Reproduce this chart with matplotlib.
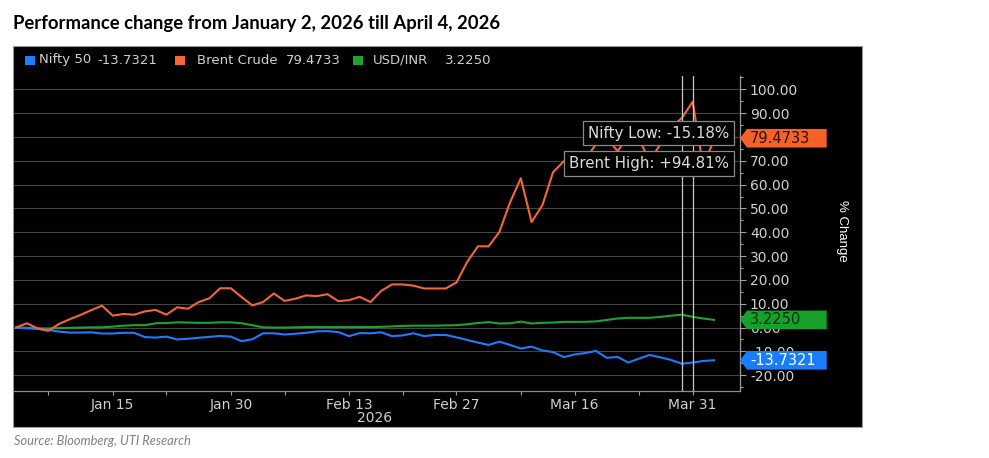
import numpy as np
import matplotlib
matplotlib.use("Agg")
import matplotlib.pyplot as plt
from matplotlib.patches import Rectangle, Polygon
from matplotlib.ticker import MultipleLocator, FixedLocator, FuncFormatter
from matplotlib.transforms import blended_transform_factory

# % change since Jan 2, 2026 (one point per trading session)
NIFTY = [0.0, -0.3, -0.6, -1.0, -1.7, -2.1, -2.1, -2.0, -2.5, -2.5,
         -2.2, -2.2, -4.0, -4.2, -3.8, -5.0, -4.7, -4.3, -3.9, -3.5,
         -3.8, -5.7, -4.9, -2.4, -2.4, -2.9, -2.6, -2.2, -1.6, -1.5,
         -1.9, -3.6, -2.3, -2.4, -2.0, -3.6, -3.3, -2.4, -3.6, -3.1,
         -3.1, -4.1, -5.2, -6.3, -7.3, -5.9, -7.3, -8.8, -8.0, -9.6,
         -10.3, -12.4, -11.3, -10.7, -9.8, -12.7, -12.3, -14.7, -13.0, -11.5,
         -12.5, -13.6, -15.18, -14.7, -14.0, -13.7321]
BRENT = [0.0, 1.8, -0.3, -1.4, 1.5, 3.5, 5.3, 7.3, 9.2, 5.0,
         5.7, 5.4, 6.8, 7.4, 5.4, 8.5, 7.9, 10.7, 12.3, 16.5,
         16.5, 12.8, 9.3, 10.7, 14.3, 11.2, 12.1, 13.5, 13.2, 14.0,
         11.1, 11.5, 12.9, 10.7, 15.4, 18.1, 18.1, 17.6, 16.4, 16.4,
         16.4, 18.9, 27.5, 34.1, 34.1, 40.1, 52.6, 62.7, 44.3, 51.3,
         65.2, 69.8, 66.0, 70.5, 77.0, 80.0, 74.0, 80.5, 79.0, 70.0,
         77.0, 84.0, 88.0, 94.81, 67.0, 79.4733]
USDINR = [0.0, -0.1, -0.3, -0.4, -0.2, -0.1, 0.0, 0.1, 0.1, 0.4,
          0.8, 1.0, 1.0, 1.8, 1.9, 2.2, 2.1, 2.0, 2.0, 2.2,
          2.2, 1.8, 1.0, 0.1, 0.0, 0.0, 0.1, 0.2, 0.2, 0.2,
          0.2, 0.2, 0.2, 0.2, 0.3, 0.5, 0.7, 0.8, 0.8, 0.8,
          0.9, 1.0, 1.4, 1.9, 2.3, 1.7, 1.8, 2.5, 1.7, 2.0,
          2.1, 2.4, 2.4, 2.4, 2.6, 3.2, 3.8, 4.1, 4.1, 4.1,
          4.5, 5.0, 5.4, 4.5, 3.8, 3.225]

SERIES_NAMES = ["Nifty 50", "Brent Crude", "USD/INR"]
DATE_TICKS = [9, 20, 31, 41, 52, 63]
DATE_LABELS = ["Jan 15", "Jan 30", "Feb 13", "Feb 27", "Mar 16", "Mar 31"]
MINOR_TICKS = [3, 14, 25, 36, 47, 58]

BLUE = "#1f7bff"
ORANGE = "#f4663a"
GREEN = "#1ea332"
TAG_BLUE = "#1a7dff"
TAG_ORANGE = "#f4622a"
TAG_GREEN = "#15a12a"

W, H = 989, 458


def fx(x):
    return x / W


def fy(y):
    return 1 - y / H


fig = plt.figure(figsize=(W / 100, H / 100), dpi=100)
fig.patch.set_facecolor("white")

# black Bloomberg panel
fig.add_artist(Rectangle((fx(12.5), fy(426.5)), fx(861.7) - fx(12.5),
                         fy(46) - fy(426.5), transform=fig.transFigure,
                         fc="black", ec="#9a9a9a", lw=0.8, zorder=0))

fig.text(fx(13), fy(28.5), "Performance change from January 2, 2026 till April 4, 2026",
         fontsize=13.3, fontweight="bold", family="Lato", va="baseline", ha="left")
fig.text(fx(14), fy(445), "Source: Bloomberg, UTI Research", fontsize=9.3,
         style="italic", family="Lato", color="#808080", va="baseline")

# legend row
x_idx = np.arange(len(NIFTY))
legend_items = [
    (25, 39, 97, BLUE, SERIES_NAMES[0], NIFTY[-1]),
    (175, 197, 286, ORANGE, SERIES_NAMES[1], BRENT[-1]),
    (353, 373, 445, GREEN, SERIES_NAMES[2], USDINR[-1]),
]
for sx, tx, vx, col, name, last in legend_items:
    fig.add_artist(Rectangle((fx(sx), fy(64.5)), fx(9.5), 9 / H,
                             transform=fig.transFigure, fc=col, ec="none"))
    fig.text(fx(tx), fy(60), name, fontsize=9.5, color="#d0d0d0", va="center")
    fig.text(fx(vx), fy(60), f"{last:.4f}", fontsize=9.5, color="#d0d0d0",
             va="center")

ax = fig.add_axes([fx(14), fy(390.7), fx(739.5) - fx(14), fy(76) - fy(390.7)])
ax.set_facecolor("black")
ax.plot(x_idx, USDINR, color=GREEN, lw=1.5, zorder=3)
ax.plot(x_idx, NIFTY, color=BLUE, lw=1.5, zorder=3)
ax.plot(x_idx, BRENT, color=ORANGE, lw=1.5, zorder=3)

ax.set_xlim(-0.19, 67.36)
ax.set_ylim(-26.5, 105.6)

ax.yaxis.tick_right()
ax.set_yticks(np.arange(-20, 101, 10))
ax.yaxis.set_minor_locator(MultipleLocator(5))
ax.yaxis.set_major_formatter(FuncFormatter(lambda v, _: f"{v:.2f}"))
ax.tick_params(axis="y", which="major", direction="out", length=4.3, width=0.8,
               color="#a0a0a0", labelcolor="#d0d0d0", labelsize=10, pad=3.2)
ax.tick_params(axis="y", which="minor", direction="out", length=2.4, width=0.8,
               color="#a0a0a0")
ax.set_xticks(DATE_TICKS)
ax.set_xticklabels(DATE_LABELS)
ax.xaxis.set_minor_locator(FixedLocator(MINOR_TICKS))
ax.tick_params(axis="x", which="both", direction="out", length=2.6, width=0.8,
               color="#9a9a9a", labelcolor="#cfcfcf", labelsize=10, pad=2.5)
ax.text(33.4, -0.0858, "2026", transform=blended_transform_factory(ax.transData, ax.transAxes),
        fontsize=10, color="#cfcfcf", ha="center", va="center")

ax.grid(axis="y", which="major", color="#444444", lw=0.8)
ax.set_axisbelow(True)
for side in ["left", "top"]:
    ax.spines[side].set_visible(False)
ax.spines["bottom"].set_color("#8c8c8c")
ax.spines["right"].set_color("#9a9a9a")
ax.spines["bottom"].set_linewidth(0.9)
ax.spines["right"].set_linewidth(0.9)

fig.text(fx(842), fy(231), "% Change", rotation=270, fontsize=9.5,
         family="Liberation Sans", color="white", ha="center", va="center")

# high / low markers
i_low = int(np.argmin(NIFTY))
i_high = int(np.argmax(BRENT))
ax.axvline(i_low, color="#c8c8c8", lw=0.9, zorder=4)
ax.axvline(i_high, color="#c8c8c8", lw=0.9, zorder=4)

units_per_px = (105.6 + 26.5) / (390.7 - 76)
x_right = 66.4
box = dict(boxstyle="square,pad=0.32", fc="black", ec="#8a8a8a", lw=0.9)
ax.text(x_right, (327.5 - 133) * units_per_px, f"Nifty Low: {NIFTY[i_low]:.2f}%",
        fontsize=10.8, color="#dcdcdc", ha="right", va="center", bbox=box, zorder=6)
ax.text(x_right, (327.5 - 163.5) * units_per_px, f"Brent High: {BRENT[i_high]:+.2f}%",
        fontsize=10.8, color="#dcdcdc", ha="right", va="center", bbox=box, zorder=6)

# last-value tags on the right axis (they sit over the tick labels, as in the source)
tag_tf = blended_transform_factory(fig.transFigure, ax.transData)
half = 9.3 * units_per_px
for last, col, tcol in [(BRENT[-1], TAG_ORANGE, "#2a0f05"),
                        (USDINR[-1], TAG_GREEN, "#0a2a0a"),
                        (NIFTY[-1], TAG_BLUE, "white")]:
    pts = [(fx(740), last), (fx(747), last + half), (fx(826.7), last + half),
           (fx(826.7), last - half), (fx(747), last - half)]
    ax.add_patch(Polygon(pts, closed=True, transform=tag_tf, fc=col, ec="none",
                         clip_on=False, zorder=7))
    ax.text(fx(750), last, f"{last:.4f}", transform=tag_tf, fontsize=10.5,
            color=tcol, ha="left", va="center", clip_on=False, zorder=8)

fig.savefig("out.png", dpi=100, facecolor="white")
